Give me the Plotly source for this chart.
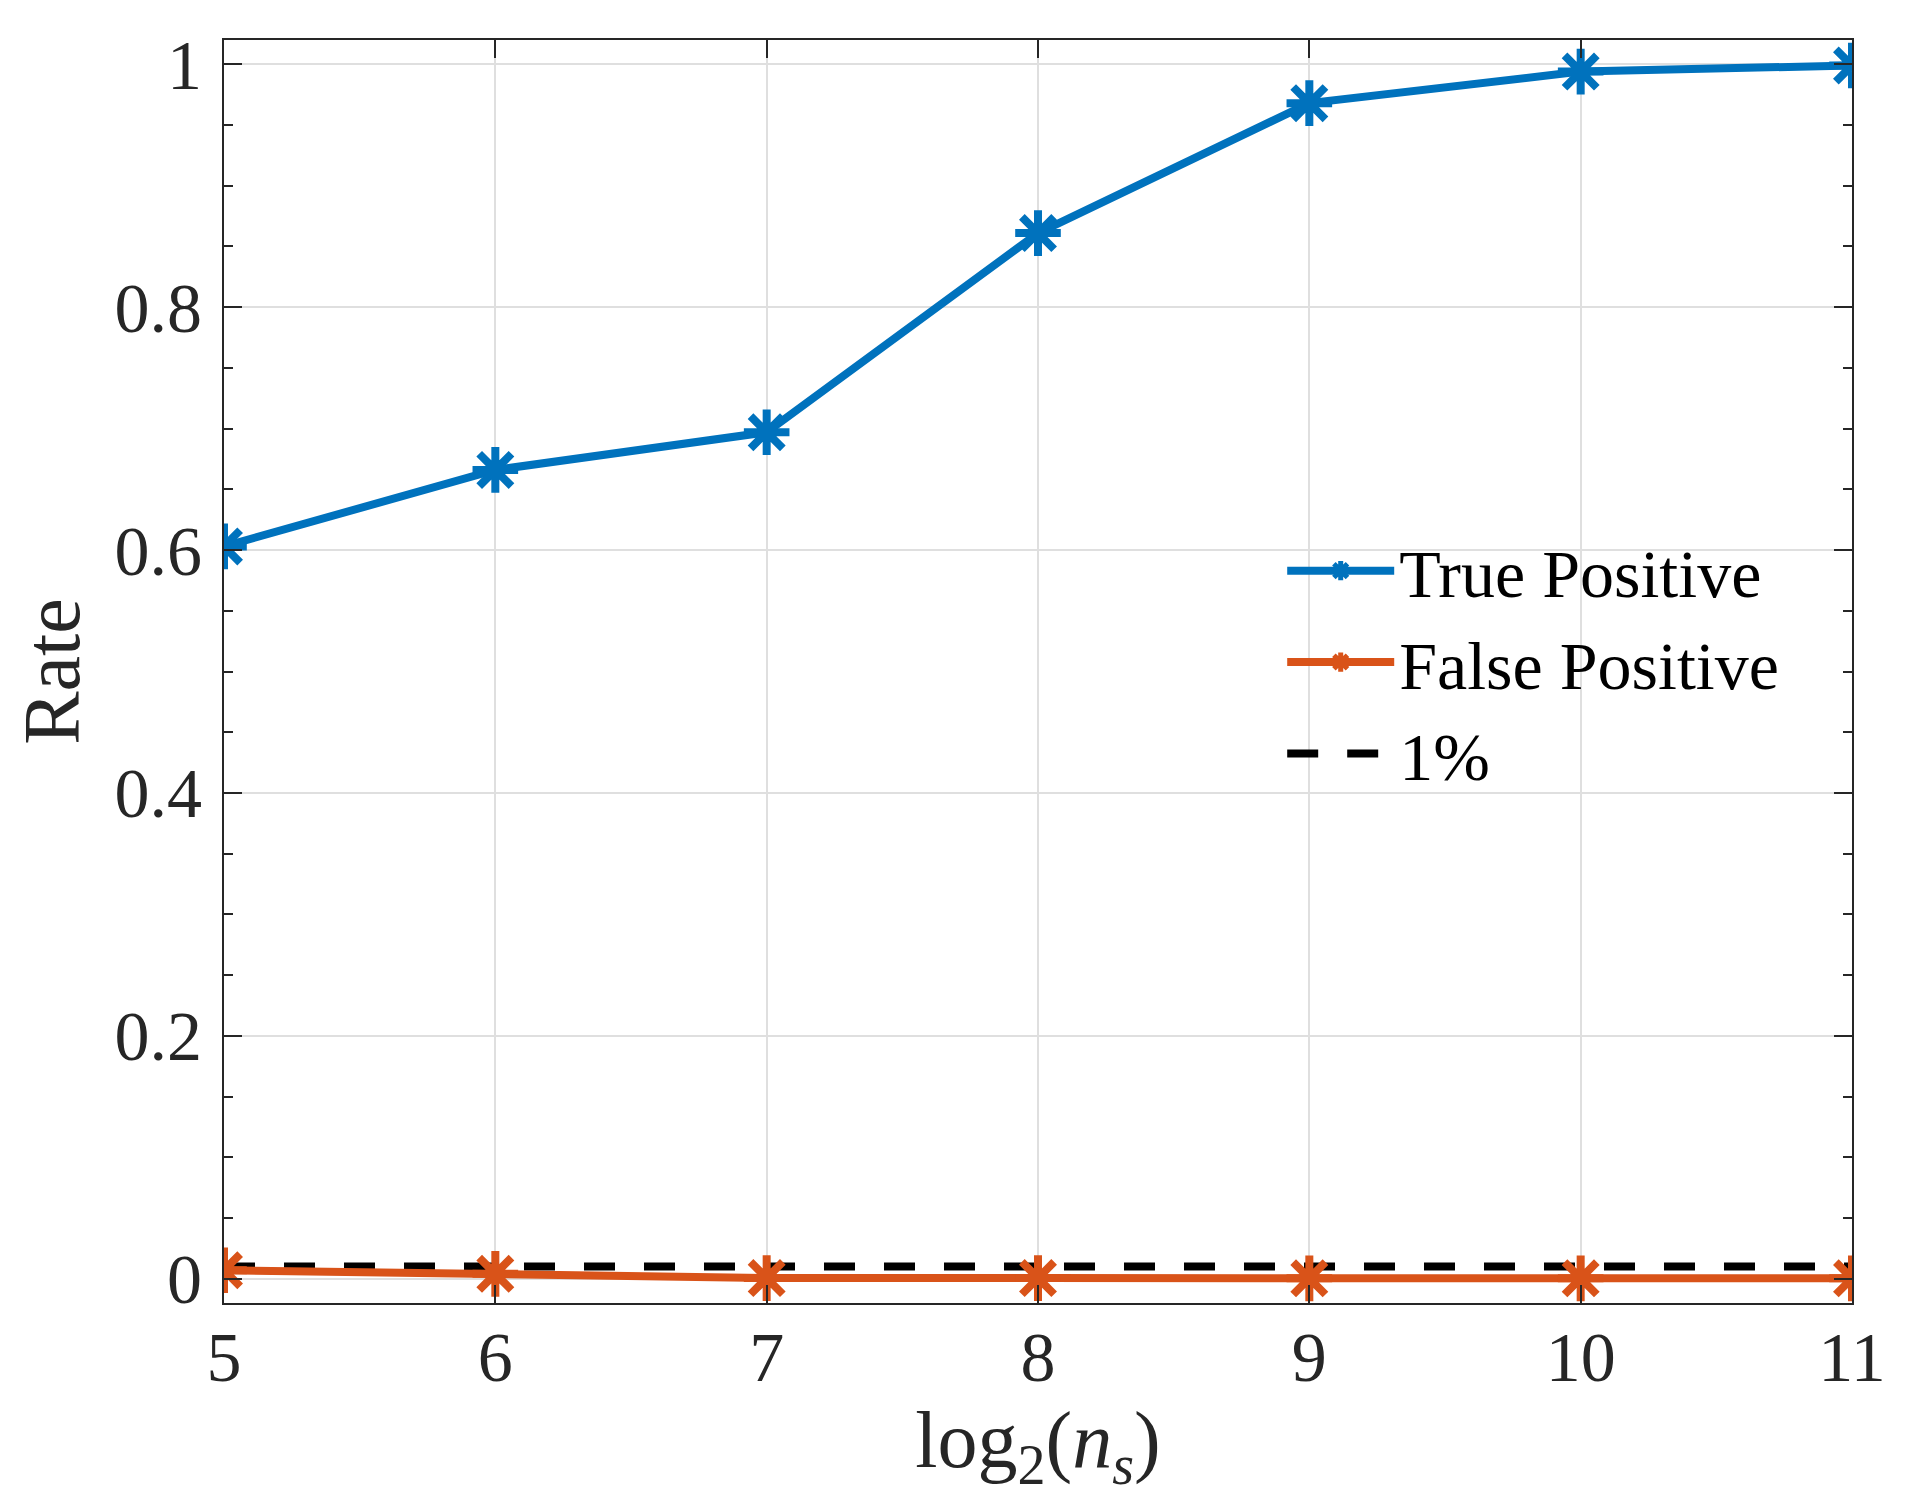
import plotly.graph_objects as go

x_vals = [5, 6, 7, 8, 9, 10, 11]
true_pos = [0.603, 0.666, 0.697, 0.861, 0.968, 0.994, 0.999]
false_pos = [0.007, 0.004, 0.0005, 0.0005, 0.0003, 0.0003, 0.0003]
threshold = [0.01] * len(x_vals)
y_ticks = [0, 0.2, 0.4, 0.6, 0.8, 1]
y_tick_text = ["0", "0.2", "0.4", "0.6", "0.8", "1"]
x_ticks = [5, 6, 7, 8, 9, 10, 11]

BLUE = "#0072BD"
ORANGE = "#D95319"
FONT = "Liberation Serif"

fig = go.Figure()
fig.add_trace(go.Scatter(
    x=x_vals, y=threshold, mode="lines", name="1%",
    line=dict(color="black", width=8, dash="31px,29px"),
    legendrank=3,
))
fig.add_trace(go.Scatter(
    x=x_vals, y=true_pos, mode="lines+markers", name="True Positive",
    line=dict(color=BLUE, width=8),
    marker=dict(symbol="asterisk-open", size=38, line=dict(color=BLUE, width=8)),
    legendrank=1,
))
fig.add_trace(go.Scatter(
    x=x_vals, y=false_pos, mode="lines+markers", name="False Positive",
    line=dict(color=ORANGE, width=8),
    marker=dict(symbol="asterisk-open", size=38, line=dict(color=ORANGE, width=8)),
    legendrank=2,
))

axis_common = dict(
    showline=True, linecolor="#262626", linewidth=2, mirror="ticks",
    ticks="inside", tickcolor="#262626", tickwidth=2, ticklen=18,
    showgrid=True, gridcolor="#dfdfdf", gridwidth=2, zeroline=False,
    tickfont=dict(family=FONT, size=70, color="#262626"),
)

fig.update_layout(
    width=1889, height=1495,
    margin=dict(l=216, r=45, t=32, b=200),
    paper_bgcolor="white", plot_bgcolor="white",
    font=dict(family=FONT, color="#262626"),
    showlegend=True,
    legend=dict(
        x=0.65, y=0.62, xanchor="left", yanchor="top",
        bgcolor="rgba(255,255,255,0)", borderwidth=0,
        font=dict(family=FONT, size=68, color="black"),
        traceorder="normal", tracegroupgap=0, itemwidth=107,
    ),
    xaxis=dict(
        range=[5, 11], tickvals=x_ticks, ticklabelstandoff=-8,
        title=dict(text="log<sub>2</sub>(<i>n</i><sub><i>s</i></sub>)",
                   font=dict(family=FONT, size=80, color="#262626"), standoff=14),
        **axis_common,
    ),
    yaxis=dict(
        range=[-0.02, 1.02], tickvals=y_ticks, ticktext=y_tick_text, ticklabelstandoff=6,
        minor=dict(dtick=0.05, ticks="inside", ticklen=9, tickcolor="#262626", tickwidth=2, showgrid=False),
        title=dict(text="Rate", font=dict(family=FONT, size=80, color="#262626"), standoff=30),
        **axis_common,
    ),
)

fig.write_html("out.html")
